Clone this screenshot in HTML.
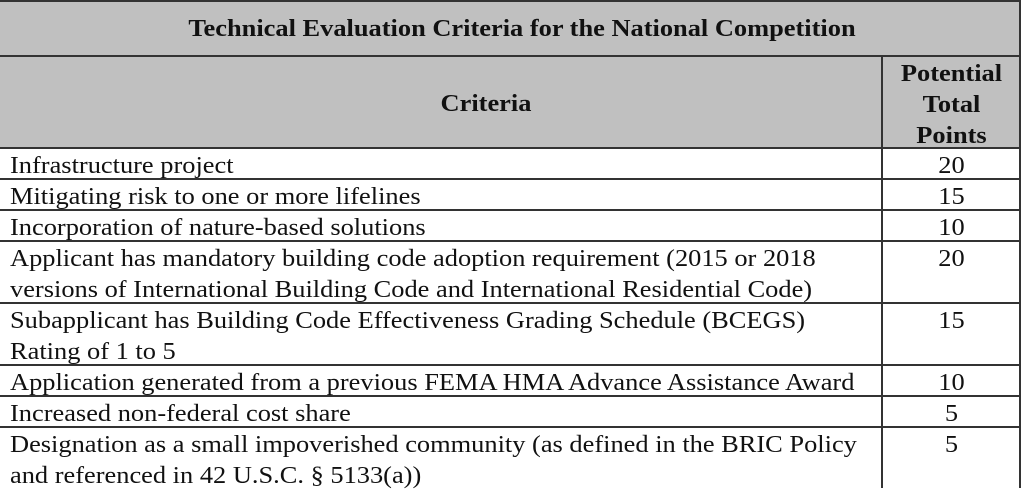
<!DOCTYPE html>
<html><head><meta charset="utf-8"><style>
body{margin:0;width:1024px;height:488px;background:#fff;position:relative;overflow:hidden;font-family:"Liberation Serif","Times New Roman",serif;font-size:24px;color:#111;}
.h{position:absolute;background:#333;height:2px;left:0;width:1021px;}
.v{position:absolute;background:#333;width:2px;}
.bg{position:absolute;background:#c0c0c0;left:0;width:1019px;}
.t{position:absolute;left:10px;line-height:31px;white-space:nowrap;transform:scaleX(1.1);transform-origin:0 0;}
.n{position:absolute;left:884px;width:135px;text-align:center;line-height:31px;transform:scaleX(1.1);}
.b{font-weight:bold;position:absolute;white-space:nowrap;transform:scaleX(1.1);}
</style></head><body>
<div class="bg" style="top:0;height:148px"></div>
<div class="h" style="top:0"></div>
<div class="h" style="top:55px"></div>
<div class="h" style="top:147px"></div>
<div class="h" style="top:178px"></div>
<div class="h" style="top:209px"></div>
<div class="h" style="top:240px"></div>
<div class="h" style="top:302px"></div>
<div class="h" style="top:364px"></div>
<div class="h" style="top:395px"></div>
<div class="h" style="top:426px"></div>
<div class="v" style="left:1019px;top:0;height:488px"></div>
<div class="v" style="left:881px;top:56px;height:432px"></div>
<div class="b" style="left:0;width:1044px;text-align:center;top:13px;line-height:32px">Technical Evaluation Criteria for the National Competition</div>
<div class="b" style="left:0;width:972px;text-align:center;top:88px;line-height:32px">Criteria</div>
<div class="b" style="left:884px;width:135px;text-align:center;top:59px;line-height:31px;white-space:normal">Potential<br>Total<br>Points</div>
<div class="t" style="top:151px">Infrastructure project</div>
<div class="n" style="top:151px">20</div>
<div class="t" style="top:182px">Mitigating risk to one or more lifelines</div>
<div class="n" style="top:182px">15</div>
<div class="t" style="top:213px">Incorporation of nature-based solutions</div>
<div class="n" style="top:213px">10</div>
<div class="t" style="top:244px">Applicant has mandatory building code adoption requirement (2015 or 2018<br>versions of International Building Code and International Residential Code)</div>
<div class="n" style="top:244px">20</div>
<div class="t" style="top:306px">Subapplicant has Building Code Effectiveness Grading Schedule (BCEGS)<br>Rating of 1 to 5</div>
<div class="n" style="top:306px">15</div>
<div class="t" style="top:368px">Application generated from a previous FEMA HMA Advance Assistance Award</div>
<div class="n" style="top:368px">10</div>
<div class="t" style="top:399px">Increased non-federal cost share</div>
<div class="n" style="top:399px">5</div>
<div class="t" style="top:430px">Designation as a small impoverished community (as defined in the BRIC Policy<br>and referenced in 42 U.S.C. § 5133(a))</div>
<div class="n" style="top:430px">5</div>
</body></html>
